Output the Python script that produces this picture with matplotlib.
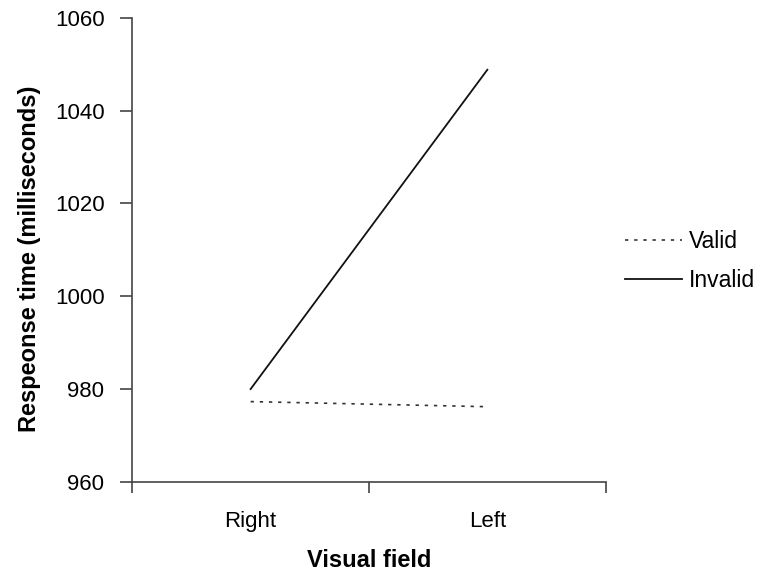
import numpy as np
import matplotlib.pyplot as plt

plt.rcParams['font.family'] = ['Liberation Sans', 'DejaVu Sans']

categories = ['Right', 'Left']
valid = [977.3, 976.2]
invalid = [980.0, 1048.8]

fig = plt.figure(figsize=(7.6, 5.73), dpi=100)
ax = fig.add_axes([0.174, 0.159, 0.623, 0.810])

x = np.arange(len(categories))
ax.plot(x, valid, color='#333333', linestyle=(0, (2, 3.5)), linewidth=1.2, label='Valid')
ax.plot(x, invalid, color='#111111', linestyle='-', linewidth=1.3, label='Invalid')

ax.set_xlim(-0.5, 1.5)
ax.set_ylim(960, 1060)
ax.set_yticks(np.arange(960, 1061, 20))

# tick marks between categories, labels on categories
ax.set_xticks([-0.5, 0.5, 1.5])
ax.set_xticklabels([])
ax.set_xticks(x, minor=True)
ax.set_xticklabels(categories, minor=True)
ax.tick_params(axis='x', which='minor', length=0, pad=21, labelsize=16)
ax.tick_params(axis='x', which='major', length=8, width=1.2, color='#444444')
ax.tick_params(axis='y', length=9, width=1.2, color='#444444', labelsize=16, pad=11)

for s in ['top', 'right']:
    ax.spines[s].set_visible(False)
for s in ['left', 'bottom']:
    ax.spines[s].set_color('#444444')
    ax.spines[s].set_linewidth(1.2)

ax.set_xlabel('Visual field', fontsize=17, fontweight='bold', labelpad=12)
ax.set_ylabel('Respeonse time (milliseconds)', fontsize=17, fontweight='bold', labelpad=10)
ax.yaxis.label.set_y(0.48)

ax.legend(loc='center left', bbox_to_anchor=(0.822, 0.545), bbox_transform=fig.transFigure,
          frameon=False, fontsize=16.5, borderpad=0, borderaxespad=0,
          handlelength=2.5, handletextpad=0.3, labelspacing=0.7)

fig.savefig('out.png', dpi=100)
